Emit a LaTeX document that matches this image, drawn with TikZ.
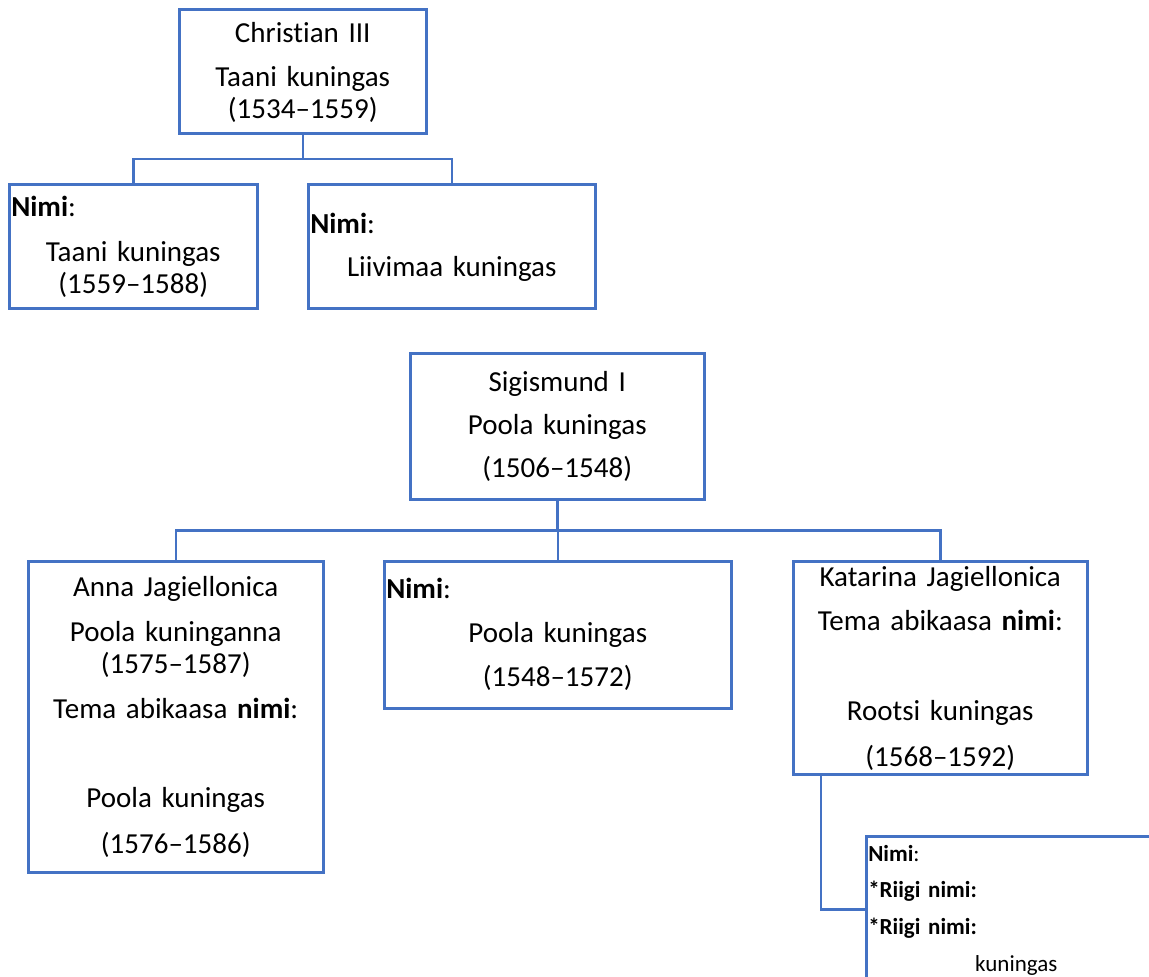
\documentclass[tikz,border=0pt]{standalone}
\usepackage{fontspec}
\setmainfont{Carlito}[Ligatures={TeX,NoCommon}]
\usetikzlibrary{positioning,calc}
\definecolor{kastisinine}{RGB}{68,114,196}
\tikzset{person/.style={rectangle, draw=kastisinine, line width=2.5pt,
    inner xsep=2pt, inner ysep=0pt, anchor=north west,
    align=center, font=\fontsize{29}{32}\selectfont},
  riik/.style={person, font=\fontsize{23}{36.7}\selectfont},
  line/.style={-, draw=kastisinine, line width=2.5pt}
}

\begin{document}
\begin{tikzpicture}[x=1pt, y=-1pt]
   \useasboundingbox (0,0) rectangle (1149,977);
   \clip (0,0) rectangle (1149,977);

   %Christian III and children
   \node (christian) [person, text width=243pt, text height=33pt, text depth=91pt] at (178,8)
   {
      Christian III\\[12pt]
      Taani kuningas\\
      (1534--1559)
   };
   \node (taani) [person, text width=244pt, text height=32pt, text depth=92pt] at (8,183)
   {
      \makebox[\linewidth][l]{\textbf{Nimi}:}\\[13pt]
      Taani kuningas\\
      (1559--1588)
   };
   \node (liivimaa) [person, text width=283pt, text height=49pt, text depth=75pt] at (307,183)
   {
      \makebox[\linewidth][l]{\textbf{Nimi}:}\\[11pt]
      Liivimaa kuningas
   };

   %Sigismund I and children
   \node (sigismund) [person, text width=290pt, text height=38pt, text depth=108pt] at (409,352)
   {
      Sigismund I\\[11pt]
      Poola kuningas\\[11pt]
      (1506--1548)
   };
   \node (anna) [person, text width=291pt, text height=35pt, text depth=276pt] at (27,560)
   {
      Anna Jagiellonica\\[13pt]
      Poola kuninganna\\
      (1575--1587)\\[13pt]
      Tema abikaasa \textbf{nimi}:\\[57pt]
      Poola kuningas\\[14pt]
      (1576--1586)
   };
   \node (poola) [person, text width=343pt, text height=37pt, text depth=110pt] at (383,560)
   {
      \makebox[\linewidth][l]{\textbf{Nimi}:}\\[12pt]
      Poola kuningas\\[12pt]
      (1548--1572)
   };
   \node (katarina) [person, text width=290pt, text height=25pt, text depth=188pt] at (792,560)
   {
      Katarina Jagiellonica\\[12pt]
      Tema abikaasa \textbf{nimi}:\\[58pt]
      Rootsi kuningas\\[14pt]
      (1568--1592)
   };

   %Katarina's child
   \node (riigid) [riik, text width=296pt, text height=25pt, text depth=121pt] at (865,835)
   {
      \makebox[\linewidth][l]{\textbf{Nimi}:}\\
      \makebox[\linewidth][l]{\textbf{*Riigi nimi:}}\\
      \makebox[\linewidth][l]{\textbf{*Riigi nimi:}}\\
      kuningas
   };

\draw [line] (christian.south) -- ($(christian.south)!0.5!(christian.south |- taani.north)$) -| (taani.north);
\draw [line] (christian.south) -- ($(christian.south)!0.5!(christian.south |- liivimaa.north)$) -| (liivimaa.north);
\draw [line] (sigismund.south) -- ($(sigismund.south)!0.5!(sigismund.south |- anna.north)$) -| (anna.north);
\draw [line] (sigismund.south) -- ($(sigismund.south)!0.5!(sigismund.south |- poola.north)$) -| (poola.north);
\draw [line] (sigismund.south) -- ($(sigismund.south)!0.5!(sigismund.south |- katarina.north)$) -| (katarina.north);
\draw [line] ($(katarina.south west)+(29,0)$) |- (riigid.west);

\end{tikzpicture}
\end{document}
